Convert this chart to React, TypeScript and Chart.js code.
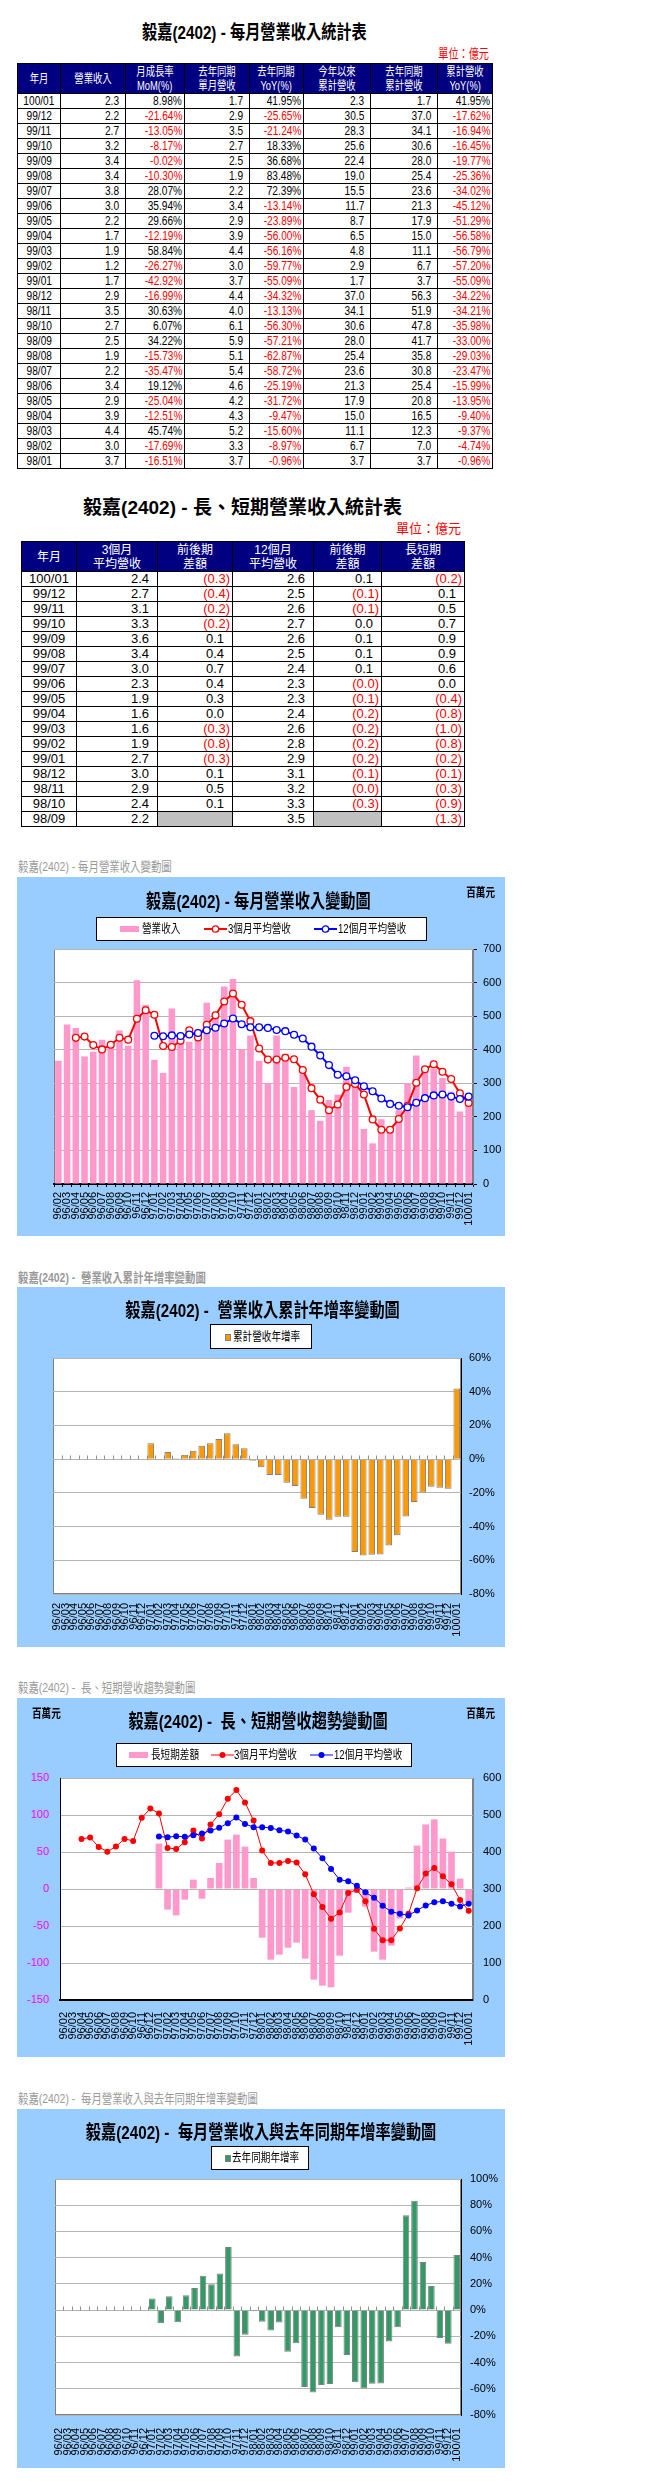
import React, { useEffect, useRef } from 'react';
import { Chart, registerables } from 'chart.js';

Chart.register(...registerables);

const FONT = '"Liberation Sans", Arial, "Noto Sans CJK TC", sans-serif';

// ---------- chart data (百萬元 / %) ----------
const months = [
  '96/02', '96/03', '96/04', '96/05', '96/06', '96/07', '96/08', '96/09', '96/10', '96/11', '96/12',
  '97/01', '97/02', '97/03', '97/04', '97/05', '97/06', '97/07', '97/08', '97/09', '97/10', '97/11', '97/12',
  '98/01', '98/02', '98/03', '98/04', '98/05', '98/06', '98/07', '98/08', '98/09', '98/10', '98/11', '98/12',
  '99/01', '99/02', '99/03', '99/04', '99/05', '99/06', '99/07', '99/08', '99/09', '99/10', '99/11', '99/12',
  '100/01',
];

const revenue = [
  367, 475, 465, 380, 394, 430, 422, 457, 412, 607, 533,
  370, 331, 523, 427, 424, 460, 540, 509, 588, 611, 402, 442,
  367, 300, 442, 388, 289, 340, 220, 188, 250, 266, 349, 290,
  164, 121, 193, 170, 220, 300, 383, 342, 344, 316, 275, 216,
  234,
];

const avg3 = [
  null, null, 435.4, 439, 413.7, 401, 414.6, 435.4, 430, 492.3, 517.6,
  504, 411, 408.2, 426.4, 458, 436.3, 474.3, 502.3, 543.8, 567.3, 533.9, 485.1,
  403.8, 370.5, 370.5, 375.9, 371.4, 339.7, 285.5, 251.2, 219.6, 236.8, 289.2, 298.2,
  266.6, 192.5, 161.8, 161.8, 193.4, 233.2, 301.8, 341.6, 356.9, 334.3, 312.6, 270.2,
  241.3,
];

const avg12 = [
  null, null, null, null, null, null, null, null, null, null, null,
  441.7, 440, 442.6, 440.9, 445.3, 449.9, 458, 465.3, 477.9, 493.2, 476, 467,
  467, 465, 458.9, 455.3, 444.4, 433.6, 409.2, 383, 354.2, 325.3, 320.8, 309,
  291, 276.5, 254.8, 238.6, 233.2, 228.6, 242.2, 255.7, 263.9, 266.6, 260.3, 253,
  260.3,
];

const longShortDiff = [
  null, null, null, null, null, null, null, null, null, null, null,
  61.4, -27.9, -35.6, -14.4, 12.6, -13.1, 14.9, 35.1, 66.8, 73.6, 57.3, 14.9,
  -65.8, -95.5, -88.7, -79.3, -72.5, -94.1, -122.5, -130.6, -132.9, -90.1, -32, -5.4,
  -23.9, -84.7, -95.5, -76.6, -40, 2, 58.6, 87.3, 94.1, 68.2, 50.5, 14,
  -18.9,
];

const cumYoY = [
  null, null, null, null, null, null, null, null, null, null, null,
  9.5, -0.6, 4.2, 0.6, 2.6, 5.0, 7.9, 9.5, 11.9, 15.4, 8.9, 6.5,
  -0.96, -4.74, -9.37, -9.40, -13.95, -15.99, -23.47, -29.03, -33.00, -35.98, -34.21, -34.22,
  -55.09, -57.20, -56.79, -56.58, -51.29, -45.12, -34.02, -25.36, -19.77, -16.45, -16.94, -17.62,
  41.95,
];

const monthYoY = [
  null, null, null, null, null, null, null, null, null, null, null,
  8.9, -10.0, 10.5, -9.2, 11.3, 16.8, 26.3, 19.7, 27.9, 48.2, -35.3, -18.7,
  -0.96, -8.97, -15.60, -9.47, -31.72, -25.19, -58.72, -62.87, -57.21, -56.30, -13.13, -34.32,
  -55.09, -59.77, -56.16, -56.00, -23.89, -13.14, 72.39, 83.48, 36.68, 18.33, -21.24, -25.65,
  41.95,
];

const revTicks = [0, 700, 100];
const cumTicks = [-80, 60, 20];
const diffTicks = [-150, 150, 50];
const avgTicks = [0, 600, 100];
const yoyTicks = [-80, 100, 20];

// ---------- table data (億元) ----------
const t1Head = [
  ['年月'], ['營業收入'], ['月成長率', 'MoM(%)'], ['去年同期', '單月營收'], ['去年同期', 'YoY(%)'],
  ['今年以來', '累計營收'], ['去年同期', '累計營收'], ['累計營收', 'YoY(%)'],
];
const t1Rows = [
  ['100/01', '2.3', '8.98%', '1.7', '41.95%', '2.3', '1.7', '41.95%'],
  ['99/12', '2.2', '-21.64%', '2.9', '-25.65%', '30.5', '37.0', '-17.62%'],
  ['99/11', '2.7', '-13.05%', '3.5', '-21.24%', '28.3', '34.1', '-16.94%'],
  ['99/10', '3.2', '-8.17%', '2.7', '18.33%', '25.6', '30.6', '-16.45%'],
  ['99/09', '3.4', '-0.02%', '2.5', '36.68%', '22.4', '28.0', '-19.77%'],
  ['99/08', '3.4', '-10.30%', '1.9', '83.48%', '19.0', '25.4', '-25.36%'],
  ['99/07', '3.8', '28.07%', '2.2', '72.39%', '15.5', '23.6', '-34.02%'],
  ['99/06', '3.0', '35.94%', '3.4', '-13.14%', '11.7', '21.3', '-45.12%'],
  ['99/05', '2.2', '29.66%', '2.9', '-23.89%', '8.7', '17.9', '-51.29%'],
  ['99/04', '1.7', '-12.19%', '3.9', '-56.00%', '6.5', '15.0', '-56.58%'],
  ['99/03', '1.9', '58.84%', '4.4', '-56.16%', '4.8', '11.1', '-56.79%'],
  ['99/02', '1.2', '-26.27%', '3.0', '-59.77%', '2.9', '6.7', '-57.20%'],
  ['99/01', '1.7', '-42.92%', '3.7', '-55.09%', '1.7', '3.7', '-55.09%'],
  ['98/12', '2.9', '-16.99%', '4.4', '-34.32%', '37.0', '56.3', '-34.22%'],
  ['98/11', '3.5', '30.63%', '4.0', '-13.13%', '34.1', '51.9', '-34.21%'],
  ['98/10', '2.7', '6.07%', '6.1', '-56.30%', '30.6', '47.8', '-35.98%'],
  ['98/09', '2.5', '34.22%', '5.9', '-57.21%', '28.0', '41.7', '-33.00%'],
  ['98/08', '1.9', '-15.73%', '5.1', '-62.87%', '25.4', '35.8', '-29.03%'],
  ['98/07', '2.2', '-35.47%', '5.4', '-58.72%', '23.6', '30.8', '-23.47%'],
  ['98/06', '3.4', '19.12%', '4.6', '-25.19%', '21.3', '25.4', '-15.99%'],
  ['98/05', '2.9', '-25.04%', '4.2', '-31.72%', '17.9', '20.8', '-13.95%'],
  ['98/04', '3.9', '-12.51%', '4.3', '-9.47%', '15.0', '16.5', '-9.40%'],
  ['98/03', '4.4', '45.74%', '5.2', '-15.60%', '11.1', '12.3', '-9.37%'],
  ['98/02', '3.0', '-17.69%', '3.3', '-8.97%', '6.7', '7.0', '-4.74%'],
  ['98/01', '3.7', '-16.51%', '3.7', '-0.96%', '3.7', '3.7', '-0.96%'],
];

const t2Head = [['年月'], ['3個月', '平均營收'], ['前後期', '差額'], ['12個月', '平均營收'], ['前後期', '差額'], ['長短期', '差額']];
const t2Rows = [
  ['100/01', '2.4', '(0.3)', '2.6', '0.1', '(0.2)'],
  ['99/12', '2.7', '(0.4)', '2.5', '(0.1)', '0.1'],
  ['99/11', '3.1', '(0.2)', '2.6', '(0.1)', '0.5'],
  ['99/10', '3.3', '(0.2)', '2.7', '0.0', '0.7'],
  ['99/09', '3.6', '0.1', '2.6', '0.1', '0.9'],
  ['99/08', '3.4', '0.4', '2.5', '0.1', '0.9'],
  ['99/07', '3.0', '0.7', '2.4', '0.1', '0.6'],
  ['99/06', '2.3', '0.4', '2.3', '(0.0)', '0.0'],
  ['99/05', '1.9', '0.3', '2.3', '(0.1)', '(0.4)'],
  ['99/04', '1.6', '0.0', '2.4', '(0.2)', '(0.8)'],
  ['99/03', '1.6', '(0.3)', '2.6', '(0.2)', '(1.0)'],
  ['99/02', '1.9', '(0.8)', '2.8', '(0.2)', '(0.8)'],
  ['99/01', '2.7', '(0.3)', '2.9', '(0.2)', '(0.2)'],
  ['98/12', '3.0', '0.1', '3.1', '(0.1)', '(0.1)'],
  ['98/11', '2.9', '0.5', '3.2', '(0.0)', '(0.3)'],
  ['98/10', '2.4', '0.1', '3.3', '(0.3)', '(0.9)'],
  ['98/09', '2.2', null, '3.5', null, '(1.3)'],
];

// ---------- layout constants ----------
const t1Widths = [43, 65, 59, 65, 54, 67, 67, 55];
const t2Widths = [55, 81, 75, 81, 68, 83];
const SQ = 0.78;

function Sx({ k, o, children }: { k: number; o: string; children: any }) {
  return (
    <span style={{ display: 'inline-block', transform: `scaleX(${k})`, transformOrigin: o, whiteSpace: 'pre' }}>
      {children}
    </span>
  );
}

function Txt(p: { x: number; w: number; cy: number; size: number; lh?: number; bold?: boolean; color?: string; align?: 'left' | 'center' | 'right'; k?: number; children: any }) {
  const lh = p.lh ?? Math.round(p.size * 1.3);
  const align = p.align ?? 'center';
  const o = align === 'left' ? '0 50%' : align === 'right' ? '100% 50%' : '50% 50%';
  return (
    <div
      style={{
        position: 'absolute', left: p.x, width: p.w, top: p.cy - lh / 2, height: lh, lineHeight: lh + 'px',
        fontSize: p.size, fontWeight: p.bold ? 'bold' : 'normal', color: p.color ?? '#000', textAlign: align,
        fontFamily: FONT, whiteSpace: 'pre',
      }}
    >
      <Sx k={p.k ?? 1} o={o}>{p.children}</Sx>
    </div>
  );
}

function Table1() {
  return (
    <table style={{ position: 'absolute', left: 17, top: 63, borderCollapse: 'collapse', tableLayout: 'fixed', width: 475, fontFamily: FONT }}>
      <colgroup>{t1Widths.map((w, i) => <col key={i} style={{ width: w }} />)}</colgroup>
      <tbody>
        <tr>
          {t1Head.map((h, i) => (
            <td key={i} style={{ background: '#000080', color: '#fff', border: '1px solid #000', padding: 0, height: 29, fontSize: 12, lineHeight: '14px', textAlign: 'center' }}>
              {h.map((l, j) => <div key={j}><Sx k={SQ} o="50% 50%">{l}</Sx></div>)}
            </td>
          ))}
        </tr>
        {t1Rows.map((r, ri) => (
          <tr key={ri}>
            {r.map((c, ci) => {
              const pct = c.endsWith('%');
              const align = ci === 0 ? 'center' : 'right';
              return (
                <td key={ci} style={{
                  border: '1px solid #000', height: 14, padding: 0, paddingRight: ci === 0 ? 0 : pct ? 2 : 6,
                  fontSize: 13, lineHeight: '14px', textAlign: align, whiteSpace: 'nowrap',
                  color: c.startsWith('-') ? '#FF0000' : '#000',
                }}>
                  <Sx k={SQ} o={ci === 0 ? '50% 50%' : '100% 50%'}>{c}</Sx>
                </td>
              );
            })}
          </tr>
        ))}
      </tbody>
    </table>
  );
}

function Table2() {
  return (
    <table style={{ position: 'absolute', left: 21, top: 541, borderCollapse: 'collapse', tableLayout: 'fixed', width: 443, fontFamily: FONT }}>
      <colgroup>{t2Widths.map((w, i) => <col key={i} style={{ width: w }} />)}</colgroup>
      <tbody>
        <tr>
          {t2Head.map((h, i) => (
            <td key={i} style={{ background: '#000080', color: '#fff', border: '1px solid #000', padding: 0, height: 29, fontSize: 12, lineHeight: '14px', textAlign: 'center' }}>
              {h.map((l, j) => <div key={j}>{l}</div>)}
            </td>
          ))}
        </tr>
        {t2Rows.map((r, ri) => (
          <tr key={ri}>
            {r.map((c, ci) => {
              const neg = c !== null && c.startsWith('(');
              const pr = ci === 0 ? 0 : ci === 1 || ci === 3 ? 8 : neg ? 2 : 8;
              return (
                <td key={ci} style={{
                  border: '1px solid #000', height: 14, padding: 0, paddingRight: pr,
                  fontSize: 13, lineHeight: '14px', textAlign: ci === 0 ? 'center' : 'right', whiteSpace: 'nowrap',
                  color: neg ? '#FF0000' : '#000', background: c === null ? '#C0C0C0' : '#fff',
                }}>
                  {c ?? ''}
                </td>
              );
            })}
          </tr>
        ))}
      </tbody>
    </table>
  );
}

// ---------- chart helpers ----------
const framePlugin = {
  id: 'frame',
  beforeDraw(chart: any, _a: any, opts: any) {
    const { ctx, chartArea: a } = chart;
    ctx.save();
    ctx.fillStyle = '#fff';
    ctx.fillRect(a.left, a.top, a.right - a.left, a.bottom - a.top);
    ctx.strokeStyle = '#808080';
    ctx.lineWidth = 1;
    ctx.strokeRect(Math.round(a.left) + 0.5, Math.round(a.top) + 0.5, Math.round(a.right - a.left) - 1, Math.round(a.bottom - a.top) - 1);
    ctx.restore();
  },
  beforeDatasetsDraw(chart: any, _a: any, opts: any) {
    if (!opts || !opts.zeroTicks) return;
    const { ctx } = chart;
    const xs = chart.scales.x;
    const ys = chart.scales.y;
    const y0 = Math.round(ys.getPixelForValue(0)) + 0.5;
    const n = chart.data.labels.length;
    const cw = (xs.right - xs.left) / n;
    ctx.save();
    ctx.strokeStyle = '#909090';
    ctx.lineWidth = 1;
    ctx.beginPath();
    for (let i = 1; i < n; i++) {
      const px = Math.round(xs.left + i * cw) + 0.5;
      ctx.moveTo(px, y0 - 4);
      ctx.lineTo(px, y0);
    }
    ctx.stroke();
    ctx.restore();
  },
};

const GRID = '#B4B4B4';

function xAxis(height: number, pad: number, extra: any = {}) {
  return {
    grid: { drawOnChartArea: false, drawTicks: false, offset: true },
    border: { display: false },
    ticks: { autoSkip: false, minRotation: 90, maxRotation: 90, padding: pad, color: '#000', font: { size: 11 } },
    afterFit: (s: any) => { s.height = height; },
    ...extra,
  };
}

function cfgRevenue() {
  return {
    type: 'bar',
    data: {
      labels: months,
      datasets: [
        { type: 'line', label: '12個月平均營收', data: avg12, borderColor: '#0000FF', borderWidth: 2, pointRadius: 3.4, pointBorderWidth: 1.3, pointBackgroundColor: '#fff', pointBorderColor: '#0000FF', order: 1 },
        { type: 'line', label: '3個月平均營收', data: avg3, borderColor: '#FF0000', borderWidth: 2, pointRadius: 3.4, pointBorderWidth: 1.3, pointBackgroundColor: '#fff', pointBorderColor: '#FF0000', order: 2 },
        { type: 'bar', label: '營業收入', data: revenue, backgroundColor: '#FF99CC', barPercentage: 0.75, categoryPercentage: 1, order: 3 },
      ],
    },
    options: {
      responsive: false, animation: false, devicePixelRatio: 1,
      layout: { padding: { left: 37, top: 72, right: 0, bottom: 0 } },
      plugins: { legend: { display: false }, tooltip: { enabled: false }, title: { display: false }, frame: {} },
      scales: {
        x: xAxis(52, 5, {
          grid: { drawOnChartArea: false, drawTicks: true, tickLength: 3, color: '#000', offset: true },
          border: { display: true, color: '#000', width: 2 },
        }),
        y: {
          position: 'right', min: revTicks[0], max: revTicks[1],
          ticks: { stepSize: revTicks[2], padding: 6, color: '#000', font: { size: 11 } },
          grid: { color: GRID, tickLength: 4, tickColor: '#000' },
          border: { display: true, color: '#808080' },
          afterFit: (s: any) => { s.width = 32; },
        },
      },
    },
    plugins: [framePlugin],
  };
}

function cfgCum() {
  return {
    type: 'bar',
    data: {
      labels: months,
      datasets: [
        { label: '累計營收年增率', data: cumYoY, backgroundColor: '#FF9900', borderColor: '#808080', borderWidth: 1, barPercentage: 0.78, categoryPercentage: 1 },
      ],
    },
    options: {
      responsive: false, animation: false, devicePixelRatio: 1,
      layout: { padding: { left: 36, top: 71, right: 0, bottom: 0 } },
      plugins: { legend: { display: false }, tooltip: { enabled: false }, frame: { zeroTicks: true } },
      scales: {
        x: xAxis(53, 9),
        y: {
          position: 'right', min: cumTicks[0], max: cumTicks[1],
          ticks: { stepSize: cumTicks[2], padding: 8, color: '#000', font: { size: 11 }, callback: (v: any) => v + '%' },
          grid: { color: GRID, drawTicks: false },
          border: { display: true, color: '#000' },
          afterFit: (s: any) => { s.width = 44; },
        },
      },
    },
    plugins: [framePlugin],
  };
}

function cfgTrend() {
  return {
    type: 'bar',
    data: {
      labels: months,
      datasets: [
        { type: 'line', label: '12個月平均營收', data: avg12, yAxisID: 'y2', borderColor: '#0000FF', borderWidth: 1, pointRadius: 3, pointBorderWidth: 0, pointBackgroundColor: '#0000FF', order: 1 },
        { type: 'line', label: '3個月平均營收', data: avg3, yAxisID: 'y2', borderColor: '#FF0000', borderWidth: 1, pointRadius: 3, pointBorderWidth: 0, pointBackgroundColor: '#FF0000', order: 2 },
        { type: 'bar', label: '長短期差額', data: longShortDiff, yAxisID: 'y', backgroundColor: '#FF99CC', barPercentage: 0.78, categoryPercentage: 1, order: 3 },
      ],
    },
    options: {
      responsive: false, animation: false, devicePixelRatio: 1,
      layout: { padding: { left: 0, top: 80, right: 0, bottom: 0 } },
      plugins: { legend: { display: false }, tooltip: { enabled: false }, frame: {} },
      scales: {
        x: xAxis(57, 12, { border: { display: true, color: '#000', width: 2 } }),
        y: {
          position: 'left', min: diffTicks[0], max: diffTicks[1],
          ticks: { stepSize: diffTicks[2], padding: 11, color: '#FF00FF', font: { size: 11 } },
          grid: { color: GRID, drawTicks: false },
          border: { display: true, color: '#000' },
          afterFit: (s: any) => { s.width = 43; },
        },
        y2: {
          position: 'right', min: avgTicks[0], max: avgTicks[1],
          ticks: { stepSize: avgTicks[2], padding: 10, color: '#000', font: { size: 11 } },
          grid: { drawOnChartArea: false, drawTicks: false },
          border: { display: true, color: '#808080' },
          afterFit: (s: any) => { s.width = 32; },
        },
      },
    },
    plugins: [framePlugin],
  };
}

function cfgYoY() {
  return {
    type: 'bar',
    data: {
      labels: months,
      datasets: [
        { label: '去年同期年增率', data: monthYoY, backgroundColor: '#339966', borderColor: '#808080', borderWidth: 1, barPercentage: 0.78, categoryPercentage: 1 },
      ],
    },
    options: {
      responsive: false, animation: false, devicePixelRatio: 1,
      layout: { padding: { left: 38, top: 70, right: 0, bottom: 0 } },
      plugins: { legend: { display: false }, tooltip: { enabled: false }, frame: { zeroTicks: true } },
      scales: {
        x: xAxis(53, 13),
        y: {
          position: 'right', min: yoyTicks[0], max: yoyTicks[1],
          ticks: { stepSize: yoyTicks[2], padding: 9, color: '#000', font: { size: 11 }, callback: (v: any) => v + '%' },
          grid: { color: GRID, drawTicks: false },
          border: { display: true, color: '#000' },
          afterFit: (s: any) => { s.width = 44; },
        },
      },
    },
    plugins: [framePlugin],
  };
}

function ChartCanvas({ x, y, w, h, make }: { x: number; y: number; w: number; h: number; make: () => any }) {
  const ref = useRef<HTMLCanvasElement>(null);
  useEffect(() => {
    Chart.defaults.font.family = FONT;
    Chart.defaults.font.size = 11;
    Chart.defaults.color = '#000';
    const c = new Chart(ref.current as HTMLCanvasElement, make());
    return () => c.destroy();
  }, []);
  return <canvas ref={ref} width={w} height={h} style={{ position: 'absolute', left: x, top: y, width: w, height: h }} />;
}

function Swatch({ x, cy, kind, color }: { x: number; cy: number; kind: string; color: string }) {
  if (kind === 'bar') return <div style={{ position: 'absolute', left: x, top: cy - 3, width: 19, height: 6, background: color }} />;
  if (kind === 'sq') return <div style={{ position: 'absolute', left: x, top: cy - 3, width: 4, height: 5, background: color, border: '1px solid #808080' }} />;
  const open = kind === 'open';
  return (
    <svg style={{ position: 'absolute', left: x, top: cy - 5 }} width={23} height={10}>
      <line x1={0} y1={5} x2={23} y2={5} stroke={color} strokeWidth={open ? 2 : 1} />
      <circle cx={11.5} cy={5} r={open ? 3.2 : 3} fill={open ? '#fff' : color} stroke={color} strokeWidth={open ? 1.3 : 0} />
    </svg>
  );
}

function LegendBox({ x, y, w, h, items }: { x: number; y: number; w: number; h: number; items: { sx: number; tx: number; kind: string; color: string; text: string }[] }) {
  const cy = y + h / 2;
  return (
    <>
      <div style={{ position: 'absolute', left: x, top: y, width: w, height: h, boxSizing: 'border-box', border: '1px solid #000', background: '#fff' }} />
      {items.map((it, i) => (
        <React.Fragment key={i}>
          <Swatch x={it.sx} cy={cy} kind={it.kind} color={it.color} />
          <Txt x={it.tx} w={120} cy={cy} size={12} lh={16} align="left" k={0.8}>{it.text}</Txt>
        </React.Fragment>
      ))}
    </>
  );
}

function BlueBox({ y, h }: { y: number; h: number }) {
  return <div style={{ position: 'absolute', left: 17, top: y, width: 488, height: h, background: '#99CCFF' }} />;
}

export default function App() {
  return (
    <div style={{ position: 'absolute', left: 0, top: 0, width: 655, height: 2481, background: '#fff', fontFamily: FONT }}>
      {/* Table 1 */}
      <Txt x={17} w={475} cy={33} size={19} lh={24} bold k={0.8}>毅嘉(2402) - 每月營業收入統計表</Txt>
      <Txt x={17} w={472} cy={54} size={13} lh={16} color="#FF0000" align="right" k={SQ}>單位：億元</Txt>
      <Table1 />

      {/* Table 2 */}
      <Txt x={21} w={443} cy={508} size={19} lh={24} bold>毅嘉(2402) - 長、短期營業收入統計表</Txt>
      <Txt x={21} w={440} cy={529} size={13} lh={16} color="#FF0000" align="right">單位：億元</Txt>
      <Table2 />

      {/* Chart 1 */}
      <Txt x={18} w={400} cy={867} size={13} lh={16} color="#999" align="left" k={0.8}>毅嘉(2402) - 每月營業收入變動圖</Txt>
      <BlueBox y={877} h={359} />
      <ChartCanvas x={17} y={877} w={488} h={359} make={cfgRevenue} />
      <Txt x={17} w={483} cy={902} size={19} lh={24} bold k={0.8}>毅嘉(2402) - 每月營業收入變動圖</Txt>
      <Txt x={440} w={55} cy={893} size={12} lh={16} bold align="right" k={0.8}>百萬元</Txt>
      <LegendBox x={96} y={917} w={331} h={24} items={[
        { sx: 120, tx: 142, kind: 'bar', color: '#FF99CC', text: '營業收入' },
        { sx: 204, tx: 228, kind: 'open', color: '#FF0000', text: '3個月平均營收' },
        { sx: 314, tx: 338, kind: 'open', color: '#0000FF', text: '12個月平均營收' },
      ]} />

      {/* Chart 2 */}
      <Txt x={18} w={400} cy={1278} size={13} lh={16} bold color="#999" align="left" k={0.8}>毅嘉(2402) -  營業收入累計年增率變動圖</Txt>
      <BlueBox y={1287} h={360} />
      <ChartCanvas x={17} y={1287} w={488} h={360} make={cfgCum} />
      <Txt x={17} w={492} cy={1311} size={19} lh={24} bold k={0.8}>毅嘉(2402) -  營業收入累計年增率變動圖</Txt>
      <LegendBox x={210} y={1324} w={102} h={25} items={[
        { sx: 225, tx: 233, kind: 'sq', color: '#FF9900', text: '累計營收年增率' },
      ]} />

      {/* Chart 3 */}
      <Txt x={18} w={400} cy={1688} size={13} lh={16} color="#999" align="left" k={0.8}>毅嘉(2402) -  長、短期營收趨勢變動圖</Txt>
      <BlueBox y={1698} h={359} />
      <ChartCanvas x={17} y={1698} w={488} h={359} make={cfgTrend} />
      <Txt x={17} w={483} cy={1722} size={19} lh={24} bold k={0.8}>毅嘉(2402) -  長、短期營收趨勢變動圖</Txt>
      <Txt x={32} w={60} cy={1714} size={12} lh={16} bold align="left" k={0.8}>百萬元</Txt>
      <Txt x={440} w={55} cy={1714} size={12} lh={16} bold align="right" k={0.8}>百萬元</Txt>
      <LegendBox x={116} y={1743} w={296} h={24} items={[
        { sx: 129, tx: 151, kind: 'bar', color: '#FF99CC', text: '長短期差額' },
        { sx: 211, tx: 234, kind: 'dot', color: '#FF0000', text: '3個月平均營收' },
        { sx: 310, tx: 334, kind: 'dot', color: '#0000FF', text: '12個月平均營收' },
      ]} />

      {/* Chart 4 */}
      <Txt x={18} w={420} cy={2099} size={13} lh={16} color="#999" align="left" k={0.8}>毅嘉(2402) -  每月營業收入與去年同期年增率變動圖</Txt>
      <BlueBox y={2109} h={359} />
      <ChartCanvas x={17} y={2109} w={488} h={359} make={cfgYoY} />
      <Txt x={17} w={488} cy={2133} size={19} lh={24} bold k={0.8}>毅嘉(2402) -  每月營業收入與去年同期年增率變動圖</Txt>
      <LegendBox x={211} y={2146} w={98} h={24} items={[
        { sx: 225, tx: 232, kind: 'sq', color: '#339966', text: '去年同期年增率' },
      ]} />
    </div>
  );
}
